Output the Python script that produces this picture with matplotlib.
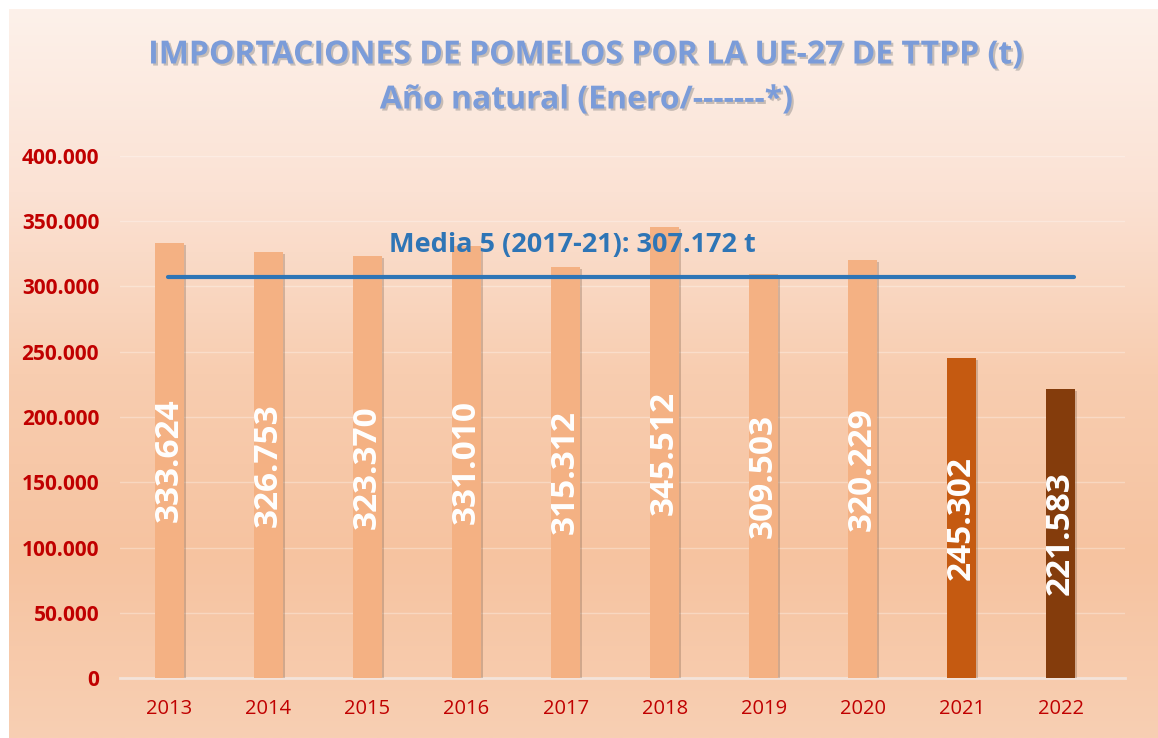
import matplotlib.pyplot as plt
import matplotlib.patheffects as pe
import numpy as np
from matplotlib.colors import LinearSegmentedColormap

years = ["2013", "2014", "2015", "2016", "2017", "2018", "2019", "2020", "2021", "2022"]
tonnes = [333624, 326753, 323370, 331010, 315312, 345512, 309503, 320229, 245302, 221583]
bar_colors = ["#F4B183"] * 8 + ["#C55A11", "#843C0C"]
media_5 = 307172
y_ticks = [0, 50000, 100000, 150000, 200000, 250000, 300000, 350000, 400000]


def miles(v):
    return f"{v:,.0f}".replace(",", ".")


fig = plt.figure(figsize=(11.58, 7.38), dpi=100)

# fondo degradado
bg = fig.add_axes([9 / 1158, 0, 1 - 9 / 1158, 1 - 9 / 738])
cmap = LinearSegmentedColormap.from_list(
    "melocoton", ["#FDF1EA", "#FBE2D4", "#F8CDB0", "#F6C3A0", "#F8CFB3"])
grad = np.linspace(0, 1, 256).reshape(-1, 1)
bg.imshow(grad, aspect="auto", cmap=cmap, extent=[0, 1, 0, 1], origin="upper")
bg.set_axis_off()

ax = fig.add_axes([120 / 1158, 60 / 738, 1005 / 1158, 522 / 738])
ax.patch.set_alpha(0)

x = np.arange(len(years))
bars = ax.bar(x, tonnes, width=0.29, color=bar_colors, zorder=3)
for b in bars:
    b.set_path_effects([pe.SimplePatchShadow(offset=(1.5, -1.5), shadow_rgbFace="#7a5a45",
                                             alpha=0.3), pe.Normal()])

for xi, v in zip(x, tonnes):
    ax.text(xi, v / 2, miles(v), rotation=90, ha="center", va="center",
            color="white", fontsize=24, fontweight="bold", family="Open Sans", zorder=5)

ax.plot([-0.02, 9.13], [media_5, media_5], color="#2E75B6", lw=3,
        solid_capstyle="round", zorder=4)
ax.text(4.07, media_5 + 15000, f"Media 5 (2017-21): {miles(media_5)} t", ha="center",
        va="bottom", color="#2E75B6", fontsize=19.5, fontweight="bold", family="Open Sans")

ax.set_ylim(0, 400000)
ax.set_xlim(-0.5, 9.65)
ax.set_yticks(y_ticks)
ax.set_yticklabels([miles(t) for t in y_ticks], color="#C00000", fontsize=15,
                   fontweight="bold", family="Open Sans")
ax.set_xticks(x)
ax.set_xticklabels(years, color="#C00000", fontsize=14.5, family="Open Sans")
ax.tick_params(length=0, pad=15)
ax.tick_params(axis="y", pad=15)
ax.grid(axis="y", color="white", alpha=0.3, lw=1)
ax.set_axisbelow(True)
for s in ["top", "right", "left"]:
    ax.spines[s].set_visible(False)
ax.spines["bottom"].set_color("#F3E3DA")
ax.spines["bottom"].set_linewidth(2)

title_fx = [pe.withSimplePatchShadow(offset=(1.5, -1.5), shadow_rgbFace="#777777", alpha=0.4)]
fig.text(587 / 1158, 1 - 55 / 738, "IMPORTACIONES DE POMELOS POR LA UE-27 DE TTPP (t)",
         ha="center", va="center", color="#7B9CD9", fontsize=23, fontweight="bold",
         family="Open Sans", path_effects=title_fx)
fig.text(587 / 1158, 1 - 100 / 738, "Año natural (Enero/-------*)", ha="center", va="center",
         color="#7B9CD9", fontsize=23, fontweight="bold", family="Open Sans",
         path_effects=title_fx)

fig.savefig("out.png", dpi=100)
